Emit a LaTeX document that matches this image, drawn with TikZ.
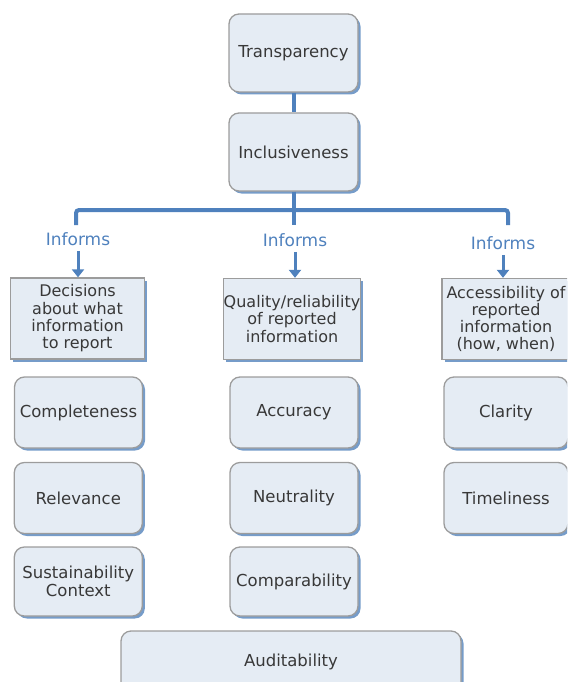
\documentclass[tikz,border=0pt]{standalone}
\usepackage{fontspec}
\setmainfont{DejaVu Sans}
\usetikzlibrary{shadows,arrows.meta}
\definecolor{boxfill}{HTML}{E5ECF4}
\definecolor{boxdraw}{HTML}{9C9C9C}
\definecolor{shadowblue}{HTML}{5E8BC0}
\definecolor{linkblue}{HTML}{4F81BD}
\definecolor{txt}{HTML}{383838}
\begin{document}
\begin{tikzpicture}[x=1pt,y=-1pt,
 base/.style={draw=boxdraw, line width=1.3pt, fill=boxfill, text=txt, align=center, inner sep=0pt,
   drop shadow={shadow xshift=2.5pt, shadow yshift=-2.5pt, fill=shadowblue, opacity=0.85}},
 rbox/.style={base, rounded corners=10pt, minimum width=128pt, minimum height=71pt, font=\fontsize{16.5}{18.5}\selectfont},
 hbox/.style={base, minimum width=134pt, minimum height=81pt, font=\fontsize{16}{17.3}\selectfont},
 link/.style={draw=linkblue, line width=4pt},
 infarrow/.style={draw=linkblue, line width=3pt, -{Triangle[width=12pt,length=8pt]}},
 lbl/.style={text=linkblue, font=\fontsize{17}{18}\selectfont, inner sep=1pt}]
\useasboundingbox (0,0) rectangle (567,682);
\clip (0,0) rectangle (567,682);
% top
\node[rbox, minimum width=129pt, minimum height=78pt] (tr) at (293.5,53) {Transparency};
\node[rbox, minimum width=129pt, minimum height=78pt] (inc) at (293.5,152) {Inclusiveness};
% headers
\node[hbox] (dec) at (77.5,318.5) {Decisions\\about what\\information\\to report};
\node[hbox] (qual) at (292,319) {Quality/reliability\\of reported\\information};
\node[hbox, minimum width=128pt] (acc) at (506,319) {Accessibility of\\reported\\information\\(how, when)};
% rows
\node[rbox] (comp) at (78.5,412.5) {Completeness};
\node[rbox] (accu) at (294,412.5) {Accuracy};
\node[rbox, minimum width=124pt] (clar) at (506,412.5) {Clarity};
\node[rbox] (rel) at (78.3,498) {Relevance};
\node[rbox] (neu) at (294,498) {Neutrality};
\node[rbox, minimum width=124pt] (tim) at (506,498) {Timeliness};
\node[rbox, minimum height=69pt] (sus) at (78.3,581.5) {Sustainability\\Context};
\node[rbox, minimum height=69pt] (cmp) at (294,581.5) {Comparability};
\node[rbox, minimum width=340pt, minimum height=62pt] (aud) at (291,662) {Auditability};
% informs labels
\node[lbl] (inf1) at (78,239) {Informs};
\node[lbl] (inf2) at (295,240) {Informs};
\node[lbl] (inf3) at (503,243) {Informs};
% connectors
\coordinate (j1) at (76,225);
\coordinate (j3) at (508,225);
\draw[link] (tr.south) -- (inc.north);
\draw[link] (inc.south) -- (inc.south |- j1);
\draw[link, rounded corners=3pt] (j1) -- ++(0,-15) -| (j3);
\draw[infarrow, shorten <=4pt] (inf1.south) -- (inf1.south |- dec.north);
\draw[infarrow, shorten <=4pt] (inf2.south) -- (inf2.south |- qual.north);
\draw[infarrow, shorten <=4pt] (inf3.south) -- (inf3.south |- acc.north);
\end{tikzpicture}
\end{document}
